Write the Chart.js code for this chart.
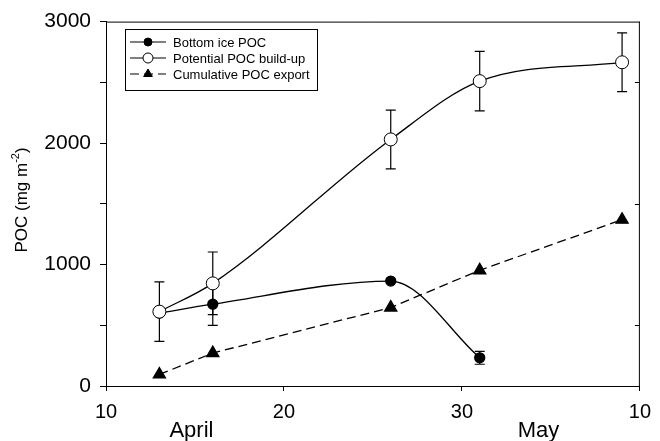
<!DOCTYPE html>
<html lang="en">
<head>
  <meta charset="UTF-8">
  <title>POC</title>
  <script src="https://cdn.jsdelivr.net/npm/chart.js"></script>
  <style>
    body { margin: 0; background: #fff; }
    #wrap { width: 660px; height: 441px; position: relative; }
  </style>
</head>
<body>
  <div id="wrap"><canvas id="miCanvas"></canvas></div>

  <script>
    // days since 1 April (30 = 30 April, 40 = 10 May)
    const days = [13, 16, 26, 31, 39];
    const iceDays = [13, 16, 26, 31];

    const bottomIce = [600, 674, 864, 232];
    const bottomIceErr = [0, 175, 0, 53];

    const buildUp = [612, 845, 2030, 2510, 2665];
    const buildUpErr = [245, 258, 242, 245, 242];

    const exportPoc = [95, 271, 646, 953, 1369];

    const xTickVals = [10, 20, 30, 40];
    const xTickText = ['10', '20', '30', '10'];
    const months = ['April', 'May'];
    const monthAt = [14.8, 34.3];

    const FONT = '"Liberation Sans", Arial, sans-serif';

    const pts = (xs, ys) => xs.map((x, i) => ({ x: x, y: ys[i] }));

    const errorBars = {
      id: 'errorBars',
      beforeDatasetsDraw(chart) {
        const ctx = chart.ctx;
        const xs = chart.scales.x, ys = chart.scales.y;
        ctx.save();
        ctx.strokeStyle = '#000';
        ctx.lineWidth = 1.2;
        chart.data.datasets.forEach(ds => {
          if (!ds.errors) return;
          ds.data.forEach((p, i) => {
            const e = ds.errors[i];
            if (!e) return;
            const px = xs.getPixelForValue(p.x);
            const top = ys.getPixelForValue(p.y + e);
            const bot = ys.getPixelForValue(p.y - e);
            ctx.beginPath();
            ctx.moveTo(px, top); ctx.lineTo(px, bot);
            ctx.moveTo(px - 5, top); ctx.lineTo(px + 5, top);
            ctx.moveTo(px - 5, bot); ctx.lineTo(px + 5, bot);
            ctx.stroke();
          });
        });
        ctx.restore();
      }
    };

    const decor = {
      id: 'decor',
      afterDraw(chart) {
        const ctx = chart.ctx;
        const a = chart.chartArea;
        const xs = chart.scales.x, ys = chart.scales.y;
        ctx.save();
        ctx.strokeStyle = '#000';
        ctx.lineWidth = 1;
        // top and right frame
        ctx.beginPath();
        ctx.moveTo(a.left, a.top + 0.5); ctx.lineTo(a.right, a.top + 0.5);
        ctx.moveTo(a.right - 0.5, a.top); ctx.lineTo(a.right - 0.5, a.bottom);
        ctx.stroke();
        // right axis inner ticks
        [500, 1500, 2500].forEach(v => {
          const y = Math.round(ys.getPixelForValue(v)) + 0.5;
          ctx.beginPath();
          ctx.moveTo(a.right, y); ctx.lineTo(a.right - 5, y);
          ctx.stroke();
        });

        // month labels
        ctx.fillStyle = '#000';
        ctx.font = '22px ' + FONT;
        ctx.textAlign = 'center';
        ctx.textBaseline = 'alphabetic';
        months.forEach((m, i) => ctx.fillText(m, xs.getPixelForValue(monthAt[i]), 437));

        // y title with superscript
        ctx.translate(22, 200);
        ctx.rotate(-Math.PI / 2);
        ctx.textAlign = 'left';
        ctx.textBaseline = 'middle';
        const big = '17px ' + FONT, small = '11px ' + FONT;
        ctx.font = big;
        const w1 = ctx.measureText('POC (mg m').width;
        const w3 = ctx.measureText(')').width;
        ctx.font = small;
        const w2 = ctx.measureText('-2').width;
        let x0 = -(w1 + w2 + w3) / 2;
        ctx.font = big;
        ctx.fillText('POC (mg m', x0, 0);
        ctx.font = small;
        ctx.fillText('-2', x0 + w1, -6);
        ctx.font = big;
        ctx.fillText(')', x0 + w1 + w2, 0);
        ctx.restore();

        // legend box
        ctx.save();
        ctx.strokeStyle = '#000';
        ctx.lineWidth = 1;
        ctx.fillStyle = '#fff';
        ctx.fillRect(125.5, 29.5, 192, 61);
        ctx.strokeRect(125.5, 29.5, 192, 61);
        const rows = [42, 58, 74];
        chart.data.datasets.slice().sort((p, q) => p.legendPos - q.legendPos).forEach((ds, i) => {
          const y = rows[i];
          ctx.strokeStyle = '#000';
          ctx.lineWidth = 1.2;
          ctx.setLineDash(ds.borderDash || []);
          ctx.beginPath();
          ctx.moveTo(130, y); ctx.lineTo(166, y);
          ctx.stroke();
          ctx.setLineDash([]);
          ctx.fillStyle = ds.pointBackgroundColor;
          ctx.strokeStyle = '#000';
          ctx.lineWidth = 1;
          Chart.helpers.drawPoint(ctx, {
            pointStyle: ds.pointStyle,
            radius: ds.legendRadius,
            borderWidth: 1
          }, 148, y);
          ctx.fillStyle = '#000';
          ctx.font = '13px ' + FONT;
          ctx.textAlign = 'left';
          ctx.textBaseline = 'middle';
          ctx.fillText(ds.label, 173, y + 1);
        });
        ctx.restore();
      }
    };

    const chart = new Chart(document.getElementById('miCanvas'), {
      type: 'line',
      data: {
        datasets: [
          {
            label: 'Potential POC build-up',
            legendPos: 1,
            legendRadius: 5,
            data: pts(days, buildUp),
            errors: buildUpErr,
            borderColor: '#000',
            borderWidth: 1.3,
            cubicInterpolationMode: 'monotone',
            pointStyle: 'circle',
            pointRadius: 6.5,
            pointBackgroundColor: '#fff',
            pointBorderColor: '#000',
            pointBorderWidth: 1,
            order: 0
          },
          {
            label: 'Bottom ice POC',
            legendPos: 0,
            legendRadius: 4,
            data: pts(iceDays, bottomIce),
            errors: bottomIceErr,
            borderColor: '#000',
            borderWidth: 1.3,
            cubicInterpolationMode: 'monotone',
            pointStyle: 'circle',
            pointRadius: 5,
            pointBackgroundColor: '#000',
            pointBorderColor: '#000',
            order: 1
          },
          {
            label: 'Cumulative POC export',
            legendPos: 2,
            legendRadius: 5,
            data: pts(days, exportPoc),
            borderColor: '#000',
            borderWidth: 1.3,
            borderDash: [9, 5],
            tension: 0,
            pointStyle: 'triangle',
            pointRadius: 7,
            pointBackgroundColor: '#000',
            pointBorderColor: '#000',
            order: 2
          }
        ]
      },
      options: {
        responsive: true,
        maintainAspectRatio: false,
        animation: false,
        layout: { padding: { top: 18, right: 14, left: 0, bottom: 0 } },
        plugins: {
          legend: { display: false },
          tooltip: { enabled: false }
        },
        scales: {
          x: {
            type: 'linear',
            min: 10,
            max: 40,
            afterBuildTicks: s => { s.ticks = xTickVals.map(v => ({ value: v })); },
            afterFit: s => { s.height = 55; },
            ticks: {
              callback: v => xTickText[xTickVals.indexOf(v)],
              color: '#000',
              font: { family: FONT, size: 20 },
              padding: 9,
              maxRotation: 0
            },
            grid: { drawOnChartArea: false, tickLength: 5, color: '#000' },
            border: { color: '#000', width: 1 }
          },
          y: {
            min: 0,
            max: 3000,
            afterFit: s => { s.width = 106; },
            ticks: {
              stepSize: 500,
              callback: v => (v % 1000 === 0 ? String(v) : ''),
              color: '#000',
              font: { family: FONT, size: 21 },
              padding: 9
            },
            grid: { drawOnChartArea: false, tickLength: 6, color: '#000' },
            border: { color: '#000', width: 1 }
          }
        }
      },
      plugins: [errorBars, decor]
    });
  </script>
</body>
</html>
